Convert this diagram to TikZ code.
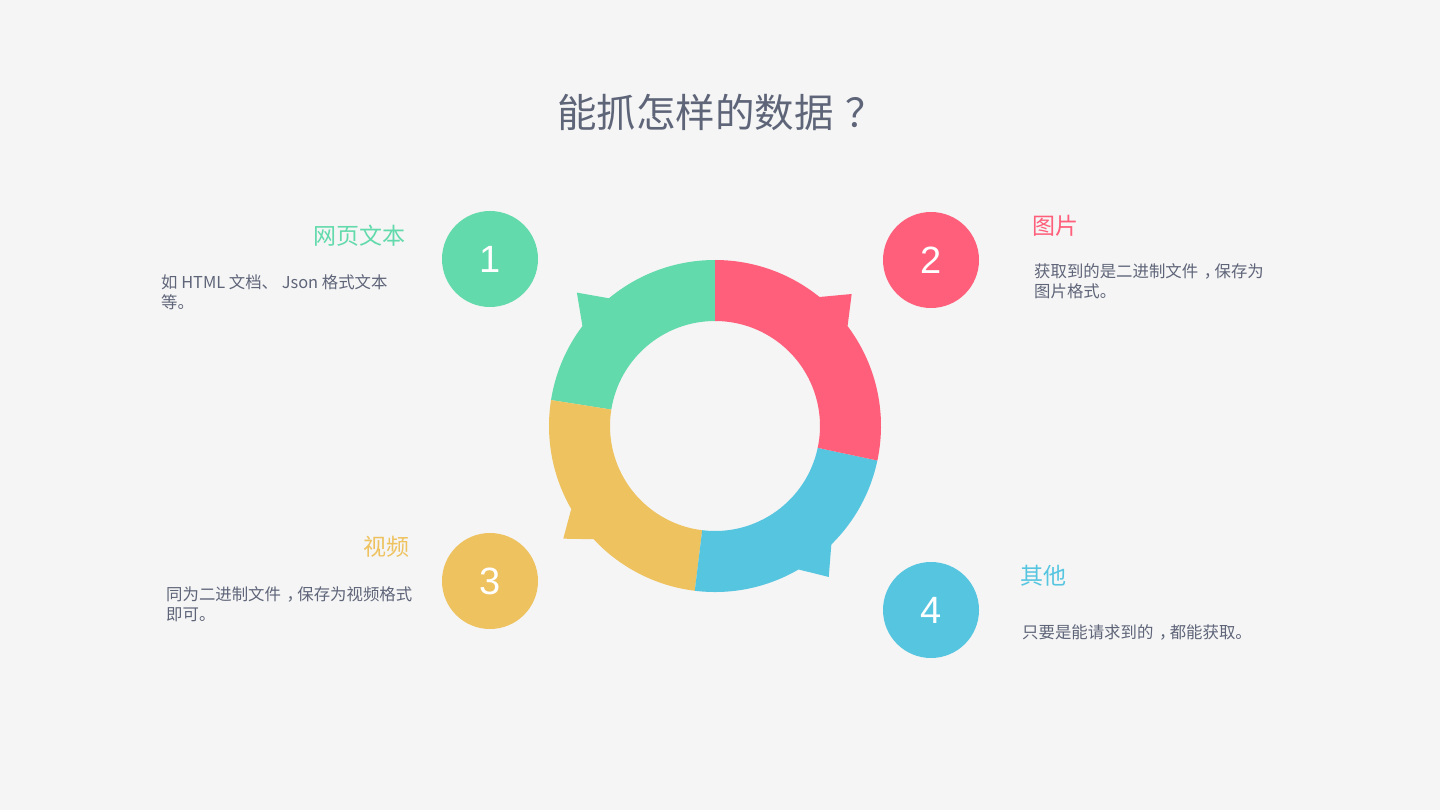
\documentclass[tikz,border=0pt]{standalone}
\usepackage{fontspec}
\usetikzlibrary{calc}
\setmainfont{Noto Sans CJK SC}
\newfontfamily\numfont{Liberation Sans}
\definecolor{bg}{HTML}{F5F5F5}
\definecolor{cgreen}{HTML}{62DAAC}
\definecolor{cpink}{HTML}{FF5F7B}
\definecolor{cblue}{HTML}{55C5E0}
\definecolor{cyellow}{HTML}{EEC25F}
\definecolor{ctext}{HTML}{5F6579}
\newcommand{\zcomma}{\hspace{0.35em}，\hspace{-0.35em}}
\begin{document}
\begin{tikzpicture}[x=1pt,y=1pt,
  numcirc/.style={circle,minimum size=96pt,inner sep=0pt,text=white,font=\numfont\fontsize{38}{38}\selectfont},
  head/.style={font=\fontsize{23}{23}\selectfont,inner sep=0pt},
  body/.style={font=\fontsize{16.4}{20}\selectfont,text=ctext,align=left,inner sep=0pt,anchor=north west}]
\fill[bg] (0,0) rectangle (1440,-810);
\useasboundingbox (0,0) rectangle (1440,-810);
\node[text=ctext,font=\fontsize{39.5}{40}\selectfont,anchor=west,inner sep=0pt] (title) at (557,-112) {能抓怎样的数据\hspace{0.3em}？};
\coordinate (c) at (715,-426);
% barbs
\fill[cpink] ($(c)+(44:190)$) -- ($(c)+(51:166)$) -- ($(c)+(37:166)$) -- cycle;
\fill[cgreen] ($(c)+(136:192)$) -- ($(c)+(129.7:166)$) -- ($(c)+(143:166)$) -- cycle;
\fill[cyellow] ($(c)+(216.6:189)$) -- ($(c)+(223:166)$) -- ($(c)+(210:166)$) -- cycle;
\fill[cblue] ($(c)+(-53:189)$) -- ($(c)+(-59.8:166)$) -- ($(c)+(-45.5:166)$) -- cycle;
% ring
\fill[cgreen] ($(c)+(90:166)$) arc (90:171:166) -- ($(c)+(171:105)$) arc (171:90:105) -- cycle;
\fill[cyellow] ($(c)+(171:166)$) arc (171:263:166) -- ($(c)+(263:105)$) arc (263:171:105) -- cycle;
\fill[cblue] ($(c)+(263:166)$) arc (263:348:166) -- ($(c)+(348:105)$) arc (348:263:105) -- cycle;
\fill[cpink] ($(c)+(-12:166)$) arc (-12:90:166) -- ($(c)+(90:105)$) arc (90:-12:105) -- cycle;
% circles
\node[numcirc,fill=cgreen] (n1) at (490,-259) {1};
\node[numcirc,fill=cpink] (n2) at (931,-260) {2};
\node[numcirc,fill=cyellow] (n3) at (490,-581) {3};
\node[numcirc,fill=cblue] (n4) at (931,-610) {4};
% headings
\node[head,text=cgreen,anchor=east] (h1) at (406,-236) {网页文本};
\node[head,text=cpink,anchor=west] (h2) at (1032,-226) {图片};
\node[head,text=cyellow,anchor=east] (h3) at (410,-547) {视频};
\node[head,text=cblue,anchor=west] (h4) at (1020,-576) {其他};
% bodies
\node[body] (b1) at (161,-274) {如 HTML 文档、 Json 格式文本\\等。};
\node[body] (b2) at (1034,-263) {获取到的是二进制文件\zcomma 保存为\\图片格式。};
\node[body] (b3) at (166,-586) {同为二进制文件\zcomma 保存为视频格式\\即可。};
\node[body] (b4) at (1022,-624) {只要是能请求到的\zcomma 都能获取。};
\end{tikzpicture}
\end{document}
